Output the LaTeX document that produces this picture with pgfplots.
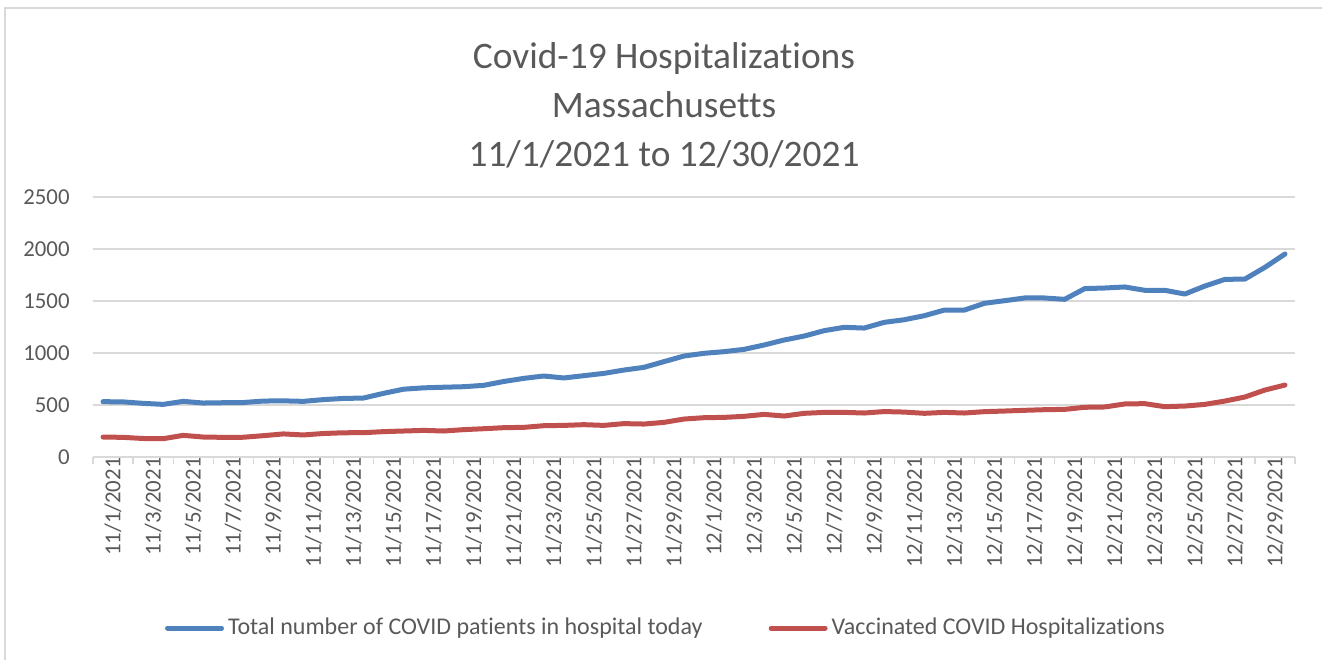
\documentclass[border=0pt]{standalone}
\usepackage{pgfplots}
\pgfplotsset{compat=1.18}
\usepackage{pgfplotstable}
\usepackage{fontspec}
\setmainfont{Carlito}[Ligatures=NoCommon]
\definecolor{txtgray}{HTML}{595959}
\definecolor{gridgray}{HTML}{D9D9D9}
\definecolor{xlblue}{HTML}{4F81BD}
\definecolor{xlred}{HTML}{C0504D}

\pgfplotstableread{
i total vacc
0 532 192
1 530 189
2 516 178
3 506 176
4 535 208
5 519 192
6 522 189
7 524 190
8 538 205
9 540 222
10 535 212
11 552 226
12 563 233
13 567 234
14 612 244
15 652 250
16 665 256
17 671 250
18 676 263
19 689 272
20 726 282
21 756 285
22 779 301
23 760 304
24 782 311
25 804 304
26 836 321
27 862 317
28 917 333
29 971 365
30 997 378
31 1013 381
32 1035 391
33 1077 410
34 1125 394
35 1163 420
36 1215 429
37 1247 429
38 1240 423
39 1295 437
40 1320 432
41 1359 420
42 1413 429
43 1413 423
44 1478 436
45 1503 442
46 1529 449
47 1529 455
48 1516 458
49 1619 478
50 1625 481
51 1635 510
52 1603 513
53 1603 484
54 1567 490
55 1644 506
56 1708 538
57 1711 577
58 1824 644
59 1952 692
}\datatable

\begin{document}
\begin{tikzpicture}
% page bounds (image 1322x660 px, 1px = 0.5pt; axis origin at px (93,457))
\path[use as bounding box] (-46.5pt,-101.5pt) rectangle (614.5pt,228.5pt);
\draw[gridgray, line width=1pt] (-44pt,-101.5pt) -- (-44pt,224.5pt) -- (614.5pt,224.5pt);
\begin{axis}[
  at={(0pt,0pt)}, anchor=south west,
  scale only axis,
  width=601pt, height=130pt,
  xmin=-0.5, xmax=59.5,
  ymin=0, ymax=2500,
  axis line style={draw=none},
  axis x line*=bottom,
  axis y line*=left,
  ytick={0,500,...,2500},
  ymajorgrids,
  grid style={gridgray, line width=0.6pt},
  major tick length=0pt,
  xtick={0,2,...,58},
  xticklabels={11/1/2021,11/3/2021,11/5/2021,11/7/2021,11/9/2021,11/11/2021,11/13/2021,11/15/2021,11/17/2021,11/19/2021,11/21/2021,11/23/2021,11/25/2021,11/27/2021,11/29/2021,12/1/2021,12/3/2021,12/5/2021,12/7/2021,12/9/2021,12/11/2021,12/13/2021,12/15/2021,12/17/2021,12/19/2021,12/21/2021,12/23/2021,12/25/2021,12/27/2021,12/29/2021},
  minor xtick={-0.5,1.5,...,59.5},
  minor tick length=3.5pt,
  xtick align=outside,
  minor tick style={gridgray, line width=0.6pt},
  /pgf/number format/assume math mode=true,
  /pgf/number format/set thousands separator={},
  ticklabel style={font=\fontsize{11.4}{13}\selectfont, text=txtgray},
  xticklabel style={rotate=90, anchor=east, inner sep=0pt, xshift=0pt, yshift=-5pt},
  yticklabel style={anchor=east, inner sep=0pt, xshift=-11.5pt},
  clip=false,
  legend columns=2,
  legend style={at={(0.4775,-0.658)}, anchor=center, draw=none, fill=none,
    font=\fontsize{12}{14}\selectfont, text=txtgray,
    /tikz/every even column/.append style={column sep=31pt}},
  legend image code/.code={\draw[#1, line width=2.5pt, line cap=round] (0pt,0pt) -- (27pt,0pt);},
]
\draw[gridgray, line width=0.6pt] (axis cs:-0.5,0) -- (axis cs:59.5,0);
\addplot[xlblue, line width=2.5pt, line join=round, line cap=round] table[x=i, y=total] {\datatable};
\addlegendentry{Total number of COVID patients in hospital today}
\addplot[xlred, line width=2.5pt, line join=round, line cap=round] table[x=i, y=vacc] {\datatable};
\addlegendentry{Vaccinated COVID Hospitalizations}
\end{axis}
\begin{scope}[every node/.style={text=txtgray, font=\fontsize{18.7}{23}\selectfont, anchor=base}]
\node at (285.5pt,194.3pt) {Covid-19 Hospitalizations};
\node at (285.5pt,170pt) {Massachusetts};
\node at (285.5pt,145.5pt) {11/1/2021 to 12/30/2021};
\end{scope}
\end{tikzpicture}
\end{document}
